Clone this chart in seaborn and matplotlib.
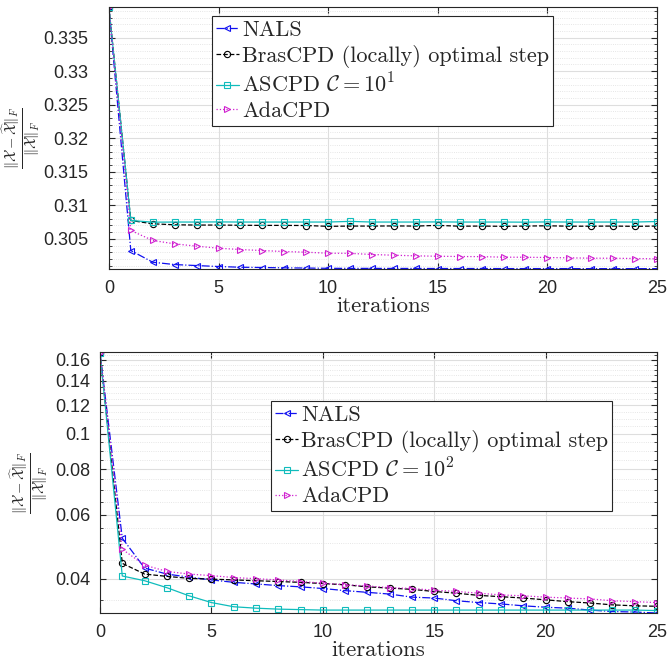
import matplotlib
matplotlib.use("Agg")
import matplotlib.pyplot as plt
from matplotlib.ticker import FixedLocator, MultipleLocator, FormatStrFormatter, NullFormatter
import seaborn as sns
import numpy as np

iters = np.arange(26)

# upper panel (C = 10^1)
nals_top = [0.3395, 0.30325, 0.30151, 0.30116, 0.30101, 0.30087, 0.30076, 0.30072, 0.30067, 0.30064,
            0.30060, 0.30059, 0.30059, 0.30058, 0.30058, 0.30057, 0.30057, 0.30057, 0.30056, 0.30056,
            0.30056, 0.30056, 0.30055, 0.30055, 0.30055, 0.30055]
bras_top = [0.3395, 0.30773, 0.30724, 0.30709, 0.30705, 0.30705, 0.30702, 0.30700, 0.30700, 0.30698,
            0.30686, 0.30690, 0.30690, 0.30692, 0.30690, 0.30700, 0.30688, 0.30690, 0.30686, 0.30690,
            0.30694, 0.30688, 0.30688, 0.30690, 0.30686, 0.30690]
ascpd_top = [0.3395, 0.30773, 0.30748, 0.30750, 0.30750, 0.30752, 0.30750, 0.30750, 0.30750, 0.30750,
             0.30750, 0.30760, 0.30750, 0.30750, 0.30750, 0.30752, 0.30750, 0.30750, 0.30750, 0.30748,
             0.30752, 0.30750, 0.30750, 0.30750, 0.30750, 0.30758]
ada_top = [0.3395, 0.30624, 0.30475, 0.30425, 0.30390, 0.30360, 0.30340, 0.30325, 0.30310, 0.30300,
           0.30285, 0.30283, 0.30266, 0.30255, 0.30246, 0.30240, 0.30236, 0.30234, 0.30226, 0.30225,
           0.30221, 0.30216, 0.30211, 0.30210, 0.30206, 0.30201]

# lower panel (C = 10^2), log y axis
nals_bot = [0.167, 0.0517, 0.0428, 0.0412, 0.0404, 0.0397, 0.0391, 0.0387, 0.0383, 0.0380,
            0.0376, 0.0371, 0.0367, 0.0363, 0.0356, 0.0354, 0.0348, 0.0344, 0.0341, 0.0337,
            0.0334, 0.0332, 0.0328, 0.0325, 0.0324, 0.0322]
bras_bot = [0.167, 0.0441, 0.0412, 0.0406, 0.0401, 0.0399, 0.0397, 0.0395, 0.0393, 0.0391,
            0.0388, 0.0385, 0.0380, 0.0377, 0.0374, 0.0369, 0.0365, 0.0360, 0.0357, 0.0354,
            0.0350, 0.0346, 0.0343, 0.0339, 0.0337, 0.0336]
ascpd_bot = [0.167, 0.0407, 0.0395, 0.0378, 0.0359, 0.0344, 0.0335, 0.0332, 0.0330, 0.0329,
             0.0328, 0.0328, 0.0328, 0.0328, 0.0328, 0.0328, 0.0328, 0.0328, 0.0328, 0.0328,
             0.0328, 0.0328, 0.0328, 0.0328, 0.0328, 0.0327]
ada_bot = [0.167, 0.0482, 0.0436, 0.0419, 0.0412, 0.0408, 0.0403, 0.0400, 0.0397, 0.0393,
           0.0389, 0.0385, 0.0382, 0.0378, 0.0376, 0.0372, 0.0369, 0.0365, 0.0361, 0.0359,
           0.0356, 0.0354, 0.0352, 0.0348, 0.0346, 0.0344]

labels_top = ["NALS", "BrasCPD (locally) optimal step", r"ASCPD $\mathcal{C}=10^1$", "AdaCPD"]
labels_bot = ["NALS", "BrasCPD (locally) optimal step", r"ASCPD $\mathcal{C}=10^2$", "AdaCPD"]
ylabel = r"$\frac{\|\mathcal{X}-\widehat{\mathcal{X}}\|_F}{\|\mathcal{X}\|_F}$"

sns.set_style("ticks")
plt.rcParams["font.family"] = ["Liberation Sans", "DejaVu Sans"]
plt.rcParams["mathtext.fontset"] = "cm"
plt.rcParams["axes.unicode_minus"] = False

styles = [("#1010f0", "-.", "<"), ("black", "--", "o"), ("#10bcbc", "-", "s"), ("#d020d0", ":", ">")]

fig = plt.figure(figsize=(6.68, 6.64), dpi=100)
ax1 = fig.add_axes([0.163, 0.5949, 0.8205, 0.3946])
ax2 = fig.add_axes([0.1497, 0.0768, 0.8338, 0.3931])


def draw(ax, series, labels, ypad):
    for y, lab, (c, ls, m) in zip(series, labels, styles):
        sns.lineplot(x=iters, y=y, ax=ax, label=lab, color=c, linestyle=ls, linewidth=0.9)
        line = ax.get_lines()[-1]
        line.set_marker(m)
        line.set_markersize(4.5)
        line.set_markerfacecolor("none")
        line.set_markeredgecolor(c)
        line.set_markeredgewidth(0.8)
    ax.set_xlim(0, 25)
    ax.xaxis.set_major_locator(FixedLocator([0, 5, 10, 15, 20, 25]))
    ax.grid(which="major", color="#dedede", linewidth=0.8)
    ax.grid(which="minor", axis="y", color="#dedede", linewidth=0.6, linestyle=":")
    ax.tick_params(which="both", direction="in", top=True, right=True, color="#262626",
                   labelcolor="#262626", labelsize=13)
    ax.tick_params(which="major", length=4)
    ax.tick_params(which="minor", length=2.5)
    ax.tick_params(axis="x", pad=8)
    ax.tick_params(axis="y", pad=ypad)
    for sp in ax.spines.values():
        sp.set_color("#262626")
        sp.set_linewidth(0.8)
    ax.set_xlabel("iterations", family="cmr10", fontsize=16.5)
    ax.xaxis.set_label_coords(0.5, -0.105)
    ax.set_ylabel(ylabel, fontsize=15)
    ax.set_axisbelow(True)


leg_kw = dict(loc="upper left", borderaxespad=0, fancybox=False, framealpha=1,
              edgecolor="#262626", prop=dict(family="cmr10", size=16), handlelength=1.0,
              handletextpad=0.15, labelspacing=0.22, borderpad=0.2)

draw(ax1, [nals_top, bras_top, ascpd_top, ada_top], labels_top, 15)
ax1.set_ylim(0.3005, 0.33957)
ax1.yaxis.set_major_locator(FixedLocator([0.305, 0.31, 0.315, 0.32, 0.325, 0.33, 0.335]))
ax1.yaxis.set_major_formatter(FormatStrFormatter("%g"))
ax1.yaxis.set_minor_locator(MultipleLocator(0.001))
ax1.yaxis.set_label_coords(-0.122, 0.5)
l1 = ax1.legend(bbox_to_anchor=(0.188, 0.9655), **leg_kw)
l1.get_frame().set_linewidth(0.8)

draw(ax2, [nals_bot, bras_bot, ascpd_bot, ada_bot], labels_bot, 7)
ax2.set_yscale("log")
ax2.set_ylim(0.0322, 0.168)
ax2.yaxis.set_major_locator(FixedLocator([0.04, 0.06, 0.08, 0.1, 0.12, 0.14, 0.16]))
ax2.yaxis.set_major_formatter(FormatStrFormatter("%g"))
ax2.yaxis.set_minor_locator(MultipleLocator(0.005))
ax2.yaxis.set_minor_formatter(NullFormatter())
ax2.yaxis.set_label_coords(-0.09, 0.5)
l2 = ax2.legend(bbox_to_anchor=(0.307, 0.812), **leg_kw)
l2.get_frame().set_linewidth(0.8)

fig.savefig("out.png", dpi=100)
